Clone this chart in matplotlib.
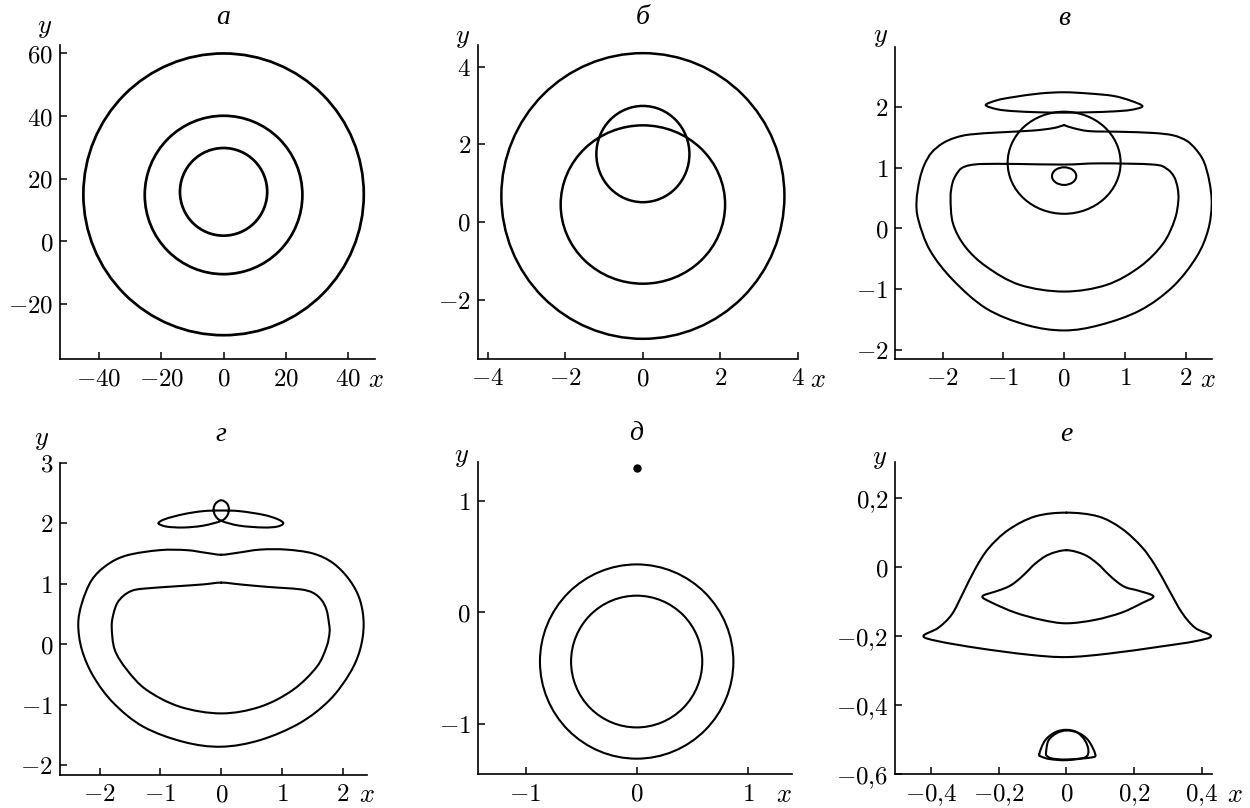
import numpy as np
import matplotlib
matplotlib.use("Agg")
import matplotlib.pyplot as plt
from matplotlib.path import Path
from matplotlib.patches import PathPatch, Ellipse
from matplotlib.ticker import FixedLocator, FuncFormatter

plt.rcParams['mathtext.fontset'] = 'cm'
plt.rcParams['font.family'] = ['DejaVu Serif']

# ---- panel а: concentric circles (centre y, radius) ----
a_circle_cy = [15.0, 14.8, 15.8]
a_circle_r = [45.0, 25.3, 14.0]

# ---- panel б ----
b_circle_cy = [0.67, 0.45, 1.75]
b_circle_rx = [3.65, 2.12, 1.20]
b_circle_ry = [3.68, 2.04, 1.24]

# ---- panel в ----
c_outer_x = [0.0, 0.15, 0.42, 0.92, 1.47, 1.80, 2.02, 2.17, 2.30, 2.39, 2.43, 2.37, 2.18, 1.79,
             1.25, 0.59, 0.0, -0.62, -1.28, -1.83, -2.21, -2.40, -2.43, -2.38, -2.30, -2.18,
             -2.0, -1.80, -1.55, -1.06, -0.51, -0.18, 0.0]
c_outer_y = [1.70, 1.65, 1.60, 1.59, 1.57, 1.53, 1.44, 1.30, 1.10, 0.78, 0.40, -0.03, -0.47, -0.96,
             -1.35, -1.59, -1.68, -1.59, -1.32, -0.85, -0.36, 0.14, 0.45, 0.80, 1.05, 1.25,
             1.40, 1.49, 1.545, 1.58, 1.61, 1.65, 1.70]
c_inner_x = [-1.33, -1.55, -1.69, -1.78, -1.84, -1.87, -1.83, -1.63, -1.28, -0.73, 0.0, 0.70, 1.25,
             1.63, 1.82, 1.88, 1.87, 1.81, 1.69, 1.47, 0.59, 0.0, -0.78]
c_inner_y = [1.06, 1.04, 0.99, 0.88, 0.74, 0.50, 0.08, -0.30, -0.63, -0.93, -1.04, -0.93, -0.63,
             -0.25, 0.14, 0.45, 0.66, 0.85, 0.98, 1.05, 1.07, 1.05, 1.06]
c_lens_x = [-1.29, -1.1, -0.84, -0.4, 0.0, 0.4, 0.81, 1.1, 1.29, 1.1, 0.81, 0.4, 0.0, -0.4, -0.84, -1.1]
c_lens_y = [2.03, 2.11, 2.16, 2.22, 2.24, 2.22, 2.18, 2.10, 2.01, 1.95, 1.925, 1.91, 1.905, 1.91, 1.93, 1.96]
c_ring = [0.0, 1.08, 0.93, 0.84]     # cx, cy, rx, ry
c_small = [0.0, 0.86, 0.20, 0.145]

# ---- panel г ----
d_outer_x = [0.0, 0.25, 0.64, 1.07, 1.51, 1.84, 2.11, 2.28, 2.34, 2.28, 2.11, 1.78, 1.29, 0.64, 0.0,
             -0.62, -1.28, -1.77, -2.10, -2.29, -2.35, -2.29, -2.13, -1.88, -1.55, -1.01, -0.57, -0.24]
d_outer_y = [1.48, 1.51, 1.565, 1.565, 1.50, 1.34, 1.06, 0.73, 0.33, -0.09, -0.48, -0.92, -1.30, -1.58,
             -1.69, -1.61, -1.36, -0.97, -0.53, -0.09, 0.33, 0.68, 1.06, 1.31, 1.47, 1.556, 1.556, 1.51]
d_inner_x = [0.0, 0.31, 0.75, 1.29, 1.51, 1.65, 1.73, 1.77, 1.78, 1.73, 1.57, 1.18, 0.64, 0.0, -0.68,
             -1.23, -1.55, -1.75, -1.80, -1.77, -1.71, -1.61, -1.47, -1.28, -0.73, -0.30]
d_inner_y = [1.02, 0.99, 0.95, 0.91, 0.85, 0.73, 0.57, 0.35, 0.20, -0.04, -0.37, -0.75, -1.03, -1.14,
             -1.03, -0.75, -0.42, -0.09, 0.29, 0.51, 0.68, 0.80, 0.885, 0.92, 0.96, 0.99]
d_top_x = [-1.03, -0.9, -0.62, -0.3, 0.0, 0.1, 0.125, 0.09, 0.0, -0.09, -0.125, -0.1, 0.0, 0.3, 0.69,
           0.92, 1.02, 0.92, 0.69, 0.3, 0.0, -0.3, -0.62, -0.92]
d_top_y = [2.0, 1.945, 1.93, 1.96, 2.04, 2.13, 2.24, 2.33, 2.38, 2.33, 2.24, 2.13, 2.04, 1.96, 1.93,
           1.945, 2.0, 2.07, 2.14, 2.2, 2.21, 2.2, 2.15, 2.07]

# ---- panel д ----
e_circle_cy = [-0.44, -0.44]
e_circle_r = [0.87, 0.59]
e_dot = [0.0, 1.29]

# ---- panel е ----
f_outer_x = [0.0, 0.094, 0.163, 0.222, 0.262, 0.301, 0.341, 0.380, 0.427, 0.380, 0.281, 0.124, 0.0,
             -0.112, -0.260, -0.378, -0.422, -0.378, -0.338, -0.304, -0.269, -0.230, -0.171, -0.092]
f_outer_y = [0.159, 0.148, 0.113, 0.060, 0.006, -0.062, -0.131, -0.175, -0.199, -0.214, -0.229, -0.250,
             -0.260, -0.253, -0.234, -0.214, -0.199, -0.175, -0.136, -0.072, -0.004, 0.055, 0.109, 0.148]
f_inner_x = [0.0, 0.053, 0.092, 0.122, 0.151, 0.176, 0.215, 0.257, 0.222, 0.163, 0.085, 0.0, -0.073,
             -0.151, -0.220, -0.248, -0.210, -0.176, -0.151, -0.122, -0.092, -0.053]
f_inner_y = [0.050, 0.037, 0.011, -0.018, -0.043, -0.058, -0.068, -0.084, -0.104, -0.131, -0.152,
             -0.162, -0.152, -0.131, -0.102, -0.084, -0.070, -0.058, -0.043, -0.018, 0.011, 0.037]
f_loop1_x = [-0.080, -0.063, -0.033, 0.0, 0.031, 0.055, 0.065, 0.055, 0.0, -0.048, -0.073]
f_loop1_y = [-0.541, -0.502, -0.478, -0.471, -0.478, -0.502, -0.531, -0.551, -0.559, -0.556, -0.549]
f_loop2_x = [-0.060, -0.053, -0.029, 0.0, 0.036, 0.065, 0.085, 0.075, 0.0, -0.043, -0.058]
f_loop2_y = [-0.537, -0.502, -0.481, -0.473, -0.480, -0.502, -0.541, -0.551, -0.557, -0.554, -0.546]

titles = ['а', 'б', 'в', 'г', 'д', 'е']
xticks = [[-40, -20, 0, 20, 40], [-4, -2, 0, 2, 4], [-2, -1, 0, 1, 2],
          [-2, -1, 0, 1, 2], [-1, 0, 1], [-0.4, -0.2, 0, 0.2, 0.4]]
yticks = [[-20, 0, 20, 40, 60], [-2, 0, 2, 4], [-2, -1, 0, 1, 2],
          [-2, -1, 0, 1, 2, 3], [-1, 0, 1], [-0.6, -0.4, -0.2, 0, 0.2]]

# layout (figure pixels) and limits
W, H = 1250, 808
boxes = [(60, 375, 45, 359), (477.7, 798, 45, 359), (895.3, 1211.7, 46.7, 359),
         (60, 366.7, 462.7, 775), (477.7, 792.3, 461.7, 774.3), (895.3, 1211.7, 462.3, 774.3)]
xlims = [(-52.5, 48.6), (-4.26, 4.0), (-2.78, 2.43), (-2.65, 2.39), (-1.43, 1.40), (-0.505, 0.429)]
ylims = [(-37.6, 62.7), (-3.53, 4.56), (-2.15, 2.99), (-2.157, 3.0), (-1.45, 1.35), (-0.6, 0.305)]
xlab_x = [48.9, 4.5, 2.36, 2.39, 1.32, 0.498]
ylab_off = [(-15, 17), (-15, 8), (-15, 10), (-18, 23), (-16, 5), (-16, 4)]
line_w = [1.95, 1.8, 1.5, 1.5, 1.5, 1.5]


def smooth_path(xs, ys, closed=True):
    pts = np.column_stack([xs, ys]).astype(float)
    n = len(pts)
    verts = [pts[0]]
    codes = [Path.MOVETO]
    segs = n if closed else n - 1
    for i in range(segs):
        if closed:
            p0, p1, p2, p3 = pts[(i - 1) % n], pts[i], pts[(i + 1) % n], pts[(i + 2) % n]
        else:
            p0 = pts[max(i - 1, 0)]
            p1 = pts[i]
            p2 = pts[i + 1]
            p3 = pts[min(i + 2, n - 1)]
        verts += [p1 + (p2 - p0) / 6.0, p2 - (p3 - p1) / 6.0, p2]
        codes += [Path.CURVE4] * 3
    return Path(verts, codes)


def fmt(v, pos):
    s = ('%g' % v).replace('.', '{,}')
    return '$%s$' % s


def draw_curve(ax, xs, ys, lw, closed=True):
    ax.add_patch(PathPatch(smooth_path(xs, ys, closed), fill=False, ec='black', lw=lw,
                           joinstyle='round', capstyle='round'))


def draw_ellipse(ax, cx, cy, rx, ry, lw):
    ax.add_patch(Ellipse((cx, cy), 2 * rx, 2 * ry, fill=False, ec='black', lw=lw))


fig = plt.figure(figsize=(12.5, 8.08), dpi=100)
axes = []
for i, (l, r, t, b) in enumerate(boxes):
    ax = fig.add_axes([l / W, 1 - b / H, (r - l) / W, (b - t) / H])
    ax.set_xlim(*xlims[i])
    ax.set_ylim(*ylims[i])
    for s in ['top', 'right']:
        ax.spines[s].set_visible(False)
    for s in ['left', 'bottom']:
        ax.spines[s].set_linewidth(1.2)
    ax.xaxis.set_major_locator(FixedLocator(xticks[i]))
    ax.yaxis.set_major_locator(FixedLocator(yticks[i]))
    ax.xaxis.set_major_formatter(FuncFormatter(fmt))
    ax.yaxis.set_major_formatter(FuncFormatter(fmt))
    ax.tick_params(direction='in', length=5, width=1.1, labelsize=18, pad=5)
    ax.tick_params(axis='x', pad=6)
    ax.patch.set_alpha(0)
    ax.annotate(titles[i], xy=(0, 1), xycoords=('data', 'axes fraction'),
                xytext=(0, 28 * 0.72), textcoords='offset points', ha='center', va='center',
                fontsize=20, fontstyle='italic', family=['Liberation Serif', 'DejaVu Serif'])
    ax.annotate('$x$', xy=(xlab_x[i], 0), xycoords=('data', 'axes fraction'),
                xytext=(0, -20 * 0.72), textcoords='offset points', ha='center', va='center',
                fontsize=19, annotation_clip=False)
    dx, dy = ylab_off[i]
    ax.annotate('$y$', xy=(0, 1), xycoords='axes fraction',
                xytext=(dx * 0.72, dy * 0.72), textcoords='offset points', ha='center', va='center',
                fontsize=19)
    axes.append(ax)

# а
for cy, r in zip(a_circle_cy, a_circle_r):
    draw_ellipse(axes[0], 0.0, cy, r, r, line_w[0])

# б
for cy, rx, ry in zip(b_circle_cy, b_circle_rx, b_circle_ry):
    draw_ellipse(axes[1], 0.0, cy, rx, ry, line_w[1])

# в
draw_curve(axes[2], c_outer_x, c_outer_y, line_w[2], closed=False)
draw_curve(axes[2], c_inner_x, c_inner_y, line_w[2])
draw_curve(axes[2], c_lens_x, c_lens_y, line_w[2])
draw_ellipse(axes[2], *c_ring, line_w[2])
draw_ellipse(axes[2], *c_small, line_w[2])

# г
draw_curve(axes[3], d_outer_x, d_outer_y, line_w[3])
draw_curve(axes[3], d_inner_x, d_inner_y, line_w[3])
draw_curve(axes[3], d_top_x, d_top_y, line_w[3])

# д
for cy, r in zip(e_circle_cy, e_circle_r):
    draw_ellipse(axes[4], 0.0, cy, r, r, line_w[4])
axes[4].plot([e_dot[0]], [e_dot[1]], 'o', color='black', ms=5)

# е
draw_curve(axes[5], f_outer_x, f_outer_y, line_w[5])
draw_curve(axes[5], f_inner_x, f_inner_y, line_w[5])
draw_curve(axes[5], f_loop1_x, f_loop1_y, line_w[5])
draw_curve(axes[5], f_loop2_x, f_loop2_y, line_w[5])

fig.savefig('out.png', dpi=100)
